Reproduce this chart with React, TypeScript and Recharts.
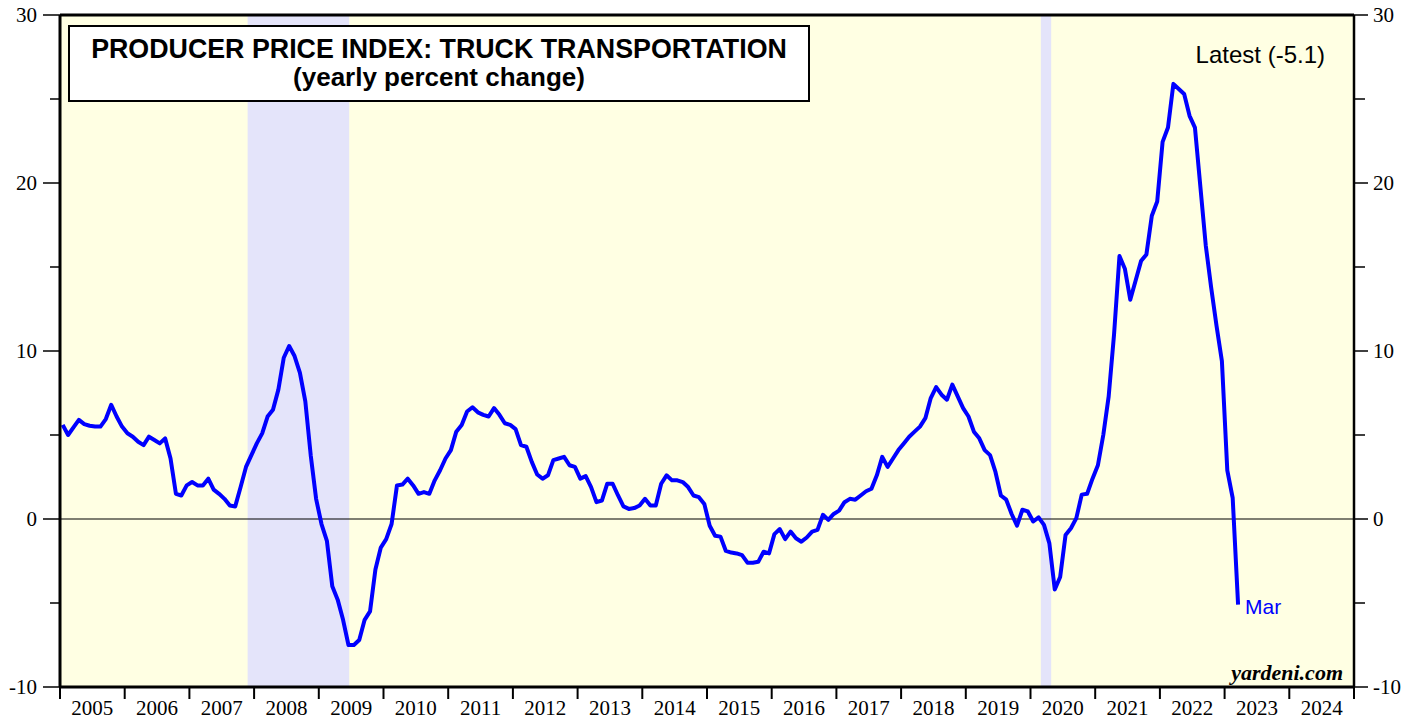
import React from 'react';
import { LineChart, Line, XAxis, YAxis, ReferenceArea, ReferenceLine } from 'recharts';

// yearly % change, monthly, Jan 2005 .. Mar 2023
const y2005 = [5.6, 5.0, 5.45, 5.9, 5.65, 5.55, 5.5, 5.5, 5.95, 6.8, 6.1, 5.5];
const y2006 = [5.1, 4.9, 4.6, 4.4, 4.9, 4.7, 4.5, 4.8, 3.6, 1.5, 1.4, 2.0];
const y2007 = [2.2, 2.0, 2.0, 2.4, 1.75, 1.5, 1.2, 0.8, 0.75, 1.9, 3.1, 3.8];
const y2008 = [4.5, 5.1, 6.1, 6.5, 7.7, 9.6, 10.3, 9.7, 8.7, 7.0, 3.8, 1.2];
const y2009 = [-0.3, -1.3, -4.0, -4.8, -6.0, -7.5, -7.5, -7.2, -6.0, -5.5, -3.0, -1.7];
const y2010 = [-1.2, -0.3, 2.0, 2.05, 2.4, 2.0, 1.5, 1.6, 1.5, 2.3, 2.9, 3.6];
const y2011 = [4.1, 5.2, 5.6, 6.4, 6.65, 6.35, 6.2, 6.1, 6.6, 6.2, 5.7, 5.6];
const y2012 = [5.35, 4.4, 4.3, 3.4, 2.65, 2.4, 2.6, 3.5, 3.6, 3.7, 3.2, 3.1];
const y2013 = [2.4, 2.55, 1.9, 1.0, 1.1, 2.1, 2.1, 1.4, 0.75, 0.6, 0.65, 0.8];
const y2014 = [1.2, 0.8, 0.8, 2.1, 2.6, 2.3, 2.3, 2.2, 1.9, 1.4, 1.3, 0.9];
const y2015 = [-0.4, -1.0, -1.05, -1.9, -2.0, -2.05, -2.15, -2.6, -2.6, -2.55, -1.95, -2.05];
const y2016 = [-0.9, -0.6, -1.2, -0.75, -1.15, -1.35, -1.1, -0.75, -0.65, 0.25, -0.05, 0.3];
const y2017 = [0.5, 1.0, 1.2, 1.15, 1.4, 1.65, 1.8, 2.6, 3.7, 3.1, 3.6, 4.1];
const y2018 = [4.5, 4.9, 5.2, 5.5, 6.0, 7.2, 7.85, 7.4, 7.1, 8.0, 7.3, 6.6];
const y2019 = [6.1, 5.2, 4.8, 4.1, 3.8, 2.8, 1.4, 1.15, 0.3, -0.4, 0.55, 0.45];
const y2020 = [-0.15, 0.1, -0.35, -1.45, -4.2, -3.45, -0.95, -0.55, 0.05, 1.45, 1.5, 2.4];
const y2021 = [3.2, 5.0, 7.3, 11.0, 15.65, 14.9, 13.05, 14.2, 15.35, 15.75, 18.05, 18.9];
const y2022 = [22.45, 23.3, 25.9, 25.6, 25.3, 24.0, 23.3, 19.8, 16.3, 13.8, 11.5, 9.4];
const y2023 = [2.9, 1.25, -5.1];

const startYear = 2005;
const monthly = [
  ...y2005, ...y2006, ...y2007, ...y2008, ...y2009, ...y2010, ...y2011,
  ...y2012, ...y2013, ...y2014, ...y2015, ...y2016, ...y2017, ...y2018,
  ...y2019, ...y2020, ...y2021, ...y2022, ...y2023,
];

// recession shading (decimal years)
const recessions = [
  { from: 2007.9, to: 2009.47 },
  { from: 2020.16, to: 2020.32 },
];

const yearTicks = Array.from({ length: 21 }, (_, i) => startYear + i);
const yTicks = [-10, -5, 0, 5, 10, 15, 20, 25, 30];

const data = monthly.map((v, i) => ({ t: startYear + (i + 0.5) / 12, v }));

const serif = '"Liberation Serif", "Times New Roman", serif';
const sans = '"Liberation Sans", Arial, sans-serif';

const LeftTick = (props: any) => {
  const { x, y, payload } = props;
  const major = payload.value % 10 === 0;
  return (
    <g>
      <line x1={x - (major ? 17 : 10)} x2={x} y1={y} y2={y} stroke="#000" strokeWidth={1.5} />
      {major && (
        <text x={x - 23} y={y + 7} textAnchor="end" fontFamily={serif} fontSize={21} fill="#000">
          {payload.value}
        </text>
      )}
    </g>
  );
};

const RightTick = (props: any) => {
  const { x, y, payload } = props;
  const major = payload.value % 10 === 0;
  return (
    <g>
      <line x1={x} x2={x + (major ? 14 : 11)} y1={y} y2={y} stroke="#000" strokeWidth={1.5} />
      {major && (
        <text x={x + 19} y={y + 7} textAnchor="start" fontFamily={serif} fontSize={21} fill="#000">
          {payload.value}
        </text>
      )}
    </g>
  );
};

// tick mark at each year boundary, year label centred in the year that follows
const YearTick = (props: any) => {
  const { x, y, payload, index, width, visibleTicksCount } = props;
  const half = width / (2 * (visibleTicksCount - 1));
  const last = index === visibleTicksCount - 1;
  return (
    <g>
      <line x1={x} x2={x} y1={y} y2={y + 12} stroke="#000" strokeWidth={2} />
      {!last && (
        <text x={x + half} y={y + 28} textAnchor="middle" fontFamily={serif} fontSize={21} fill="#000">
          {payload.value}
        </text>
      )}
    </g>
  );
};

const lastIdx = monthly.length - 1;
const EndDot = (props: any) => {
  const { cx, cy, index } = props;
  if (index !== lastIdx) return <g key={`d-${index}`} />;
  return (
    <text key="mar" x={cx + 7} y={cy + 9} fontFamily={sans} fontSize={21} fill="#0000ff">
      Mar
    </text>
  );
};

export default function App() {
  return (
    <div style={{ position: 'absolute', left: 0, top: 0, width: 1419, height: 719, background: '#fff' }}>
      <LineChart width={1419} height={719} data={data} margin={{ top: 15, right: 0, bottom: 0, left: 0 }}>
        <XAxis
          xAxisId="yr"
          dataKey="t"
          type="number"
          domain={[2005, 2025]}
          ticks={yearTicks}
          interval={0}
          height={32}
          tickSize={0}
          tickMargin={0}
          tickLine={false}
          axisLine={{ stroke: '#000', strokeWidth: 3 }}
          tick={<YearTick />}
          allowDataOverflow
        />
        <YAxis
          yAxisId="l"
          type="number"
          domain={[-10, 30]}
          ticks={yTicks}
          interval={0}
          width={60}
          tickSize={0}
          tickMargin={0}
          tickLine={false}
          axisLine={{ stroke: '#000', strokeWidth: 3 }}
          tick={<LeftTick />}
          allowDataOverflow
        />
        <YAxis
          yAxisId="r"
          orientation="right"
          type="number"
          domain={[-10, 30]}
          ticks={yTicks}
          interval={0}
          width={65}
          tickSize={0}
          tickMargin={0}
          tickLine={false}
          axisLine={{ stroke: '#000', strokeWidth: 2.5 }}
          tick={<RightTick />}
          allowDataOverflow
        />
        <ReferenceArea xAxisId="yr" yAxisId="l" x1={2005} x2={2025} y1={-10} y2={30} fill="#ffffe3" fillOpacity={1} stroke="none" />
        {recessions.map((r) => (
          <ReferenceArea key={r.from} xAxisId="yr" yAxisId="l" x1={r.from} x2={r.to} y1={-10} y2={30} fill="#e4e4fa" fillOpacity={1} stroke="none" />
        ))}
        <ReferenceLine xAxisId="yr" yAxisId="l" y={0} stroke="#000" strokeWidth={1.2} />
        <ReferenceLine xAxisId="yr" yAxisId="l" y={30} stroke="#000" strokeWidth={3} />
        <Line
          xAxisId="yr"
          yAxisId="l"
          dataKey="v"
          type="linear"
          stroke="#0000ff"
          strokeWidth={4}
          strokeLinejoin="round"
          dot={<EndDot />}
          activeDot={false}
          isAnimationActive={false}
        />
      </LineChart>
      <svg width={1419} height={719} style={{ position: 'absolute', left: 0, top: 0, pointerEvents: 'none' }}>
        <rect x={69} y={26} width={740} height={75} fill="#fff" stroke="#000" strokeWidth={2} />
        <text x={439} y={58} textAnchor="middle" fontFamily={sans} fontWeight="bold" fontSize={26.8} fill="#000">
          PRODUCER PRICE INDEX: TRUCK TRANSPORTATION
        </text>
        <text x={439} y={86} textAnchor="middle" fontFamily={sans} fontWeight="bold" fontSize={26} fill="#000">
          (yearly percent change)
        </text>
        <text x={1325} y={63} textAnchor="end" fontFamily={sans} fontSize={24} fill="#000">
          Latest (-5.1)
        </text>
        <text x={1343} y={680} textAnchor="end" fontFamily={serif} fontStyle="italic" fontWeight="bold" fontSize={22} fill="#000">
          yardeni.com
        </text>
      </svg>
    </div>
  );
}
